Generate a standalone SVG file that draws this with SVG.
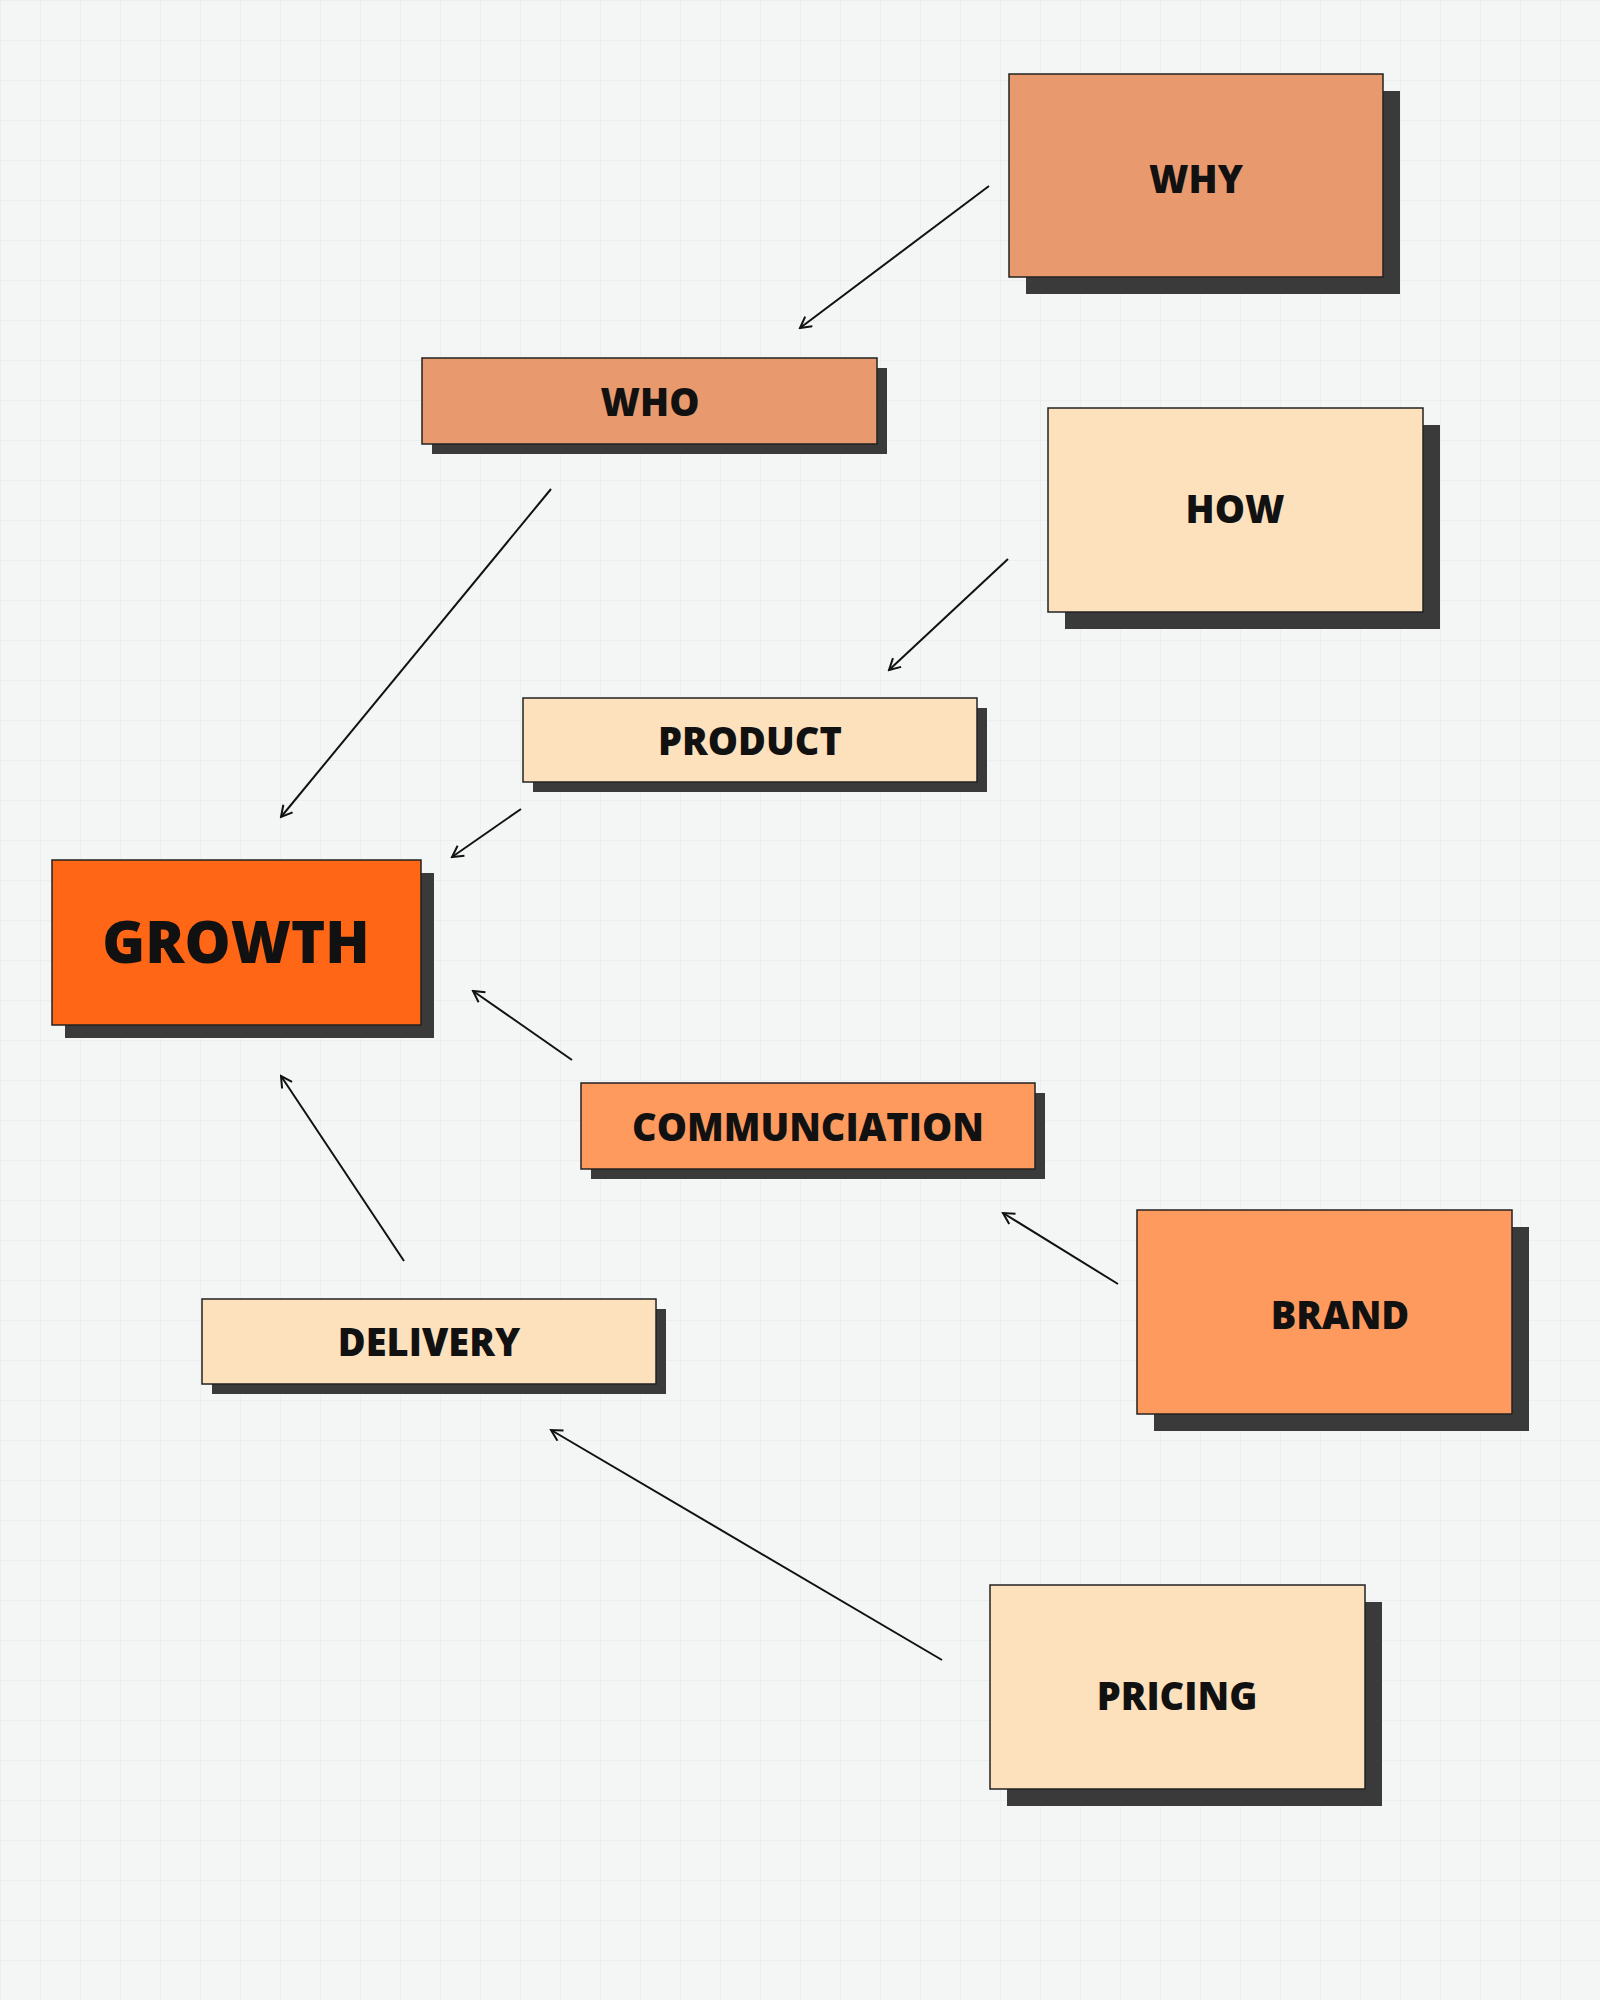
<svg xmlns="http://www.w3.org/2000/svg" width="1600" height="2000" viewBox="0 0 1600 2000">
<defs>
<pattern id="grid" width="40" height="40" patternUnits="userSpaceOnUse"><path d="M40 0H0V40" fill="none" stroke="#e3e8ea" stroke-width="1"/></pattern>
<marker id="ah" markerWidth="14" markerHeight="14" refX="12" refY="7" orient="auto" markerUnits="userSpaceOnUse"><path d="M1 1L12 7L1 13" fill="none" stroke="#111" stroke-width="2"/></marker>
</defs>
<style>
.sh{fill:#3a3a3a}
.b{stroke:#222;stroke-width:1.5}
.t{font-family:"Open Sans","Liberation Sans",sans-serif;font-weight:800;fill:#111;text-anchor:middle;dominant-baseline:central}
.c1{fill:#E89A6E}.c2{fill:#FDE1BD}.c3{fill:#FF6615}.c4{fill:#FF9A5E}
.cn line{stroke:#111;stroke-width:2;marker-end:url(#ah)}
</style>
<rect width="1600" height="2000" fill="#f4f6f6"/>
<rect width="1600" height="2000" fill="url(#grid)"/>
<g id="why"><rect class="sh" x="1026" y="91" width="374" height="203"/><rect class="b c1" x="1009" y="74" width="374" height="203"/><text class="t" x="1196" y="178" font-size="38">WHY</text></g>
<g id="who"><rect class="sh" x="432" y="368" width="455" height="86"/><rect class="b c1" x="422" y="358" width="455" height="86"/><text class="t" x="650" y="401" font-size="38">WHO</text></g>
<g id="how"><rect class="sh" x="1065" y="425" width="375" height="204"/><rect class="b c2" x="1048" y="408" width="375" height="204"/><text class="t" x="1235" y="508" font-size="38">HOW</text></g>
<g id="product"><rect class="sh" x="533" y="708" width="454" height="84"/><rect class="b c2" x="523" y="698" width="454" height="84"/><text class="t" x="750" y="740" font-size="38">PRODUCT</text></g>
<g id="growth"><rect class="sh" x="65" y="873" width="369" height="165"/><rect class="b c3" x="52" y="860" width="369" height="165"/><text class="t" x="236" y="940" font-size="58">GROWTH</text></g>
<g id="communication"><rect class="sh" x="591" y="1093" width="454" height="86"/><rect class="b c4" x="581" y="1083" width="454" height="86"/><text class="t" x="808" y="1126" font-size="38">COMMUNCIATION</text></g>
<g id="brand"><rect class="sh" x="1154" y="1227" width="375" height="204"/><rect class="b c4" x="1137" y="1210" width="375" height="204"/><text class="t" x="1340" y="1314" font-size="38">BRAND</text></g>
<g id="delivery"><rect class="sh" x="212" y="1309" width="454" height="85"/><rect class="b c2" x="202" y="1299" width="454" height="85"/><text class="t" x="429" y="1341" font-size="38">DELIVERY</text></g>
<g id="pricing"><rect class="sh" x="1007" y="1602" width="375" height="204"/><rect class="b c2" x="990" y="1585" width="375" height="204"/><text class="t" x="1177" y="1695" font-size="38">PRICING</text></g>
<g class="cn" id="connectors">
<line x1="989" y1="186" x2="800" y2="328"/>
<line x1="551" y1="489" x2="281" y2="817"/>
<line x1="1008" y1="559" x2="889" y2="670"/>
<line x1="521" y1="809" x2="452" y2="857"/>
<line x1="572" y1="1060" x2="473" y2="991"/>
<line x1="1118" y1="1284" x2="1003" y2="1213"/>
<line x1="404" y1="1261" x2="281" y2="1076"/>
<line x1="942" y1="1660" x2="551" y2="1430"/>
</g>
</svg>
